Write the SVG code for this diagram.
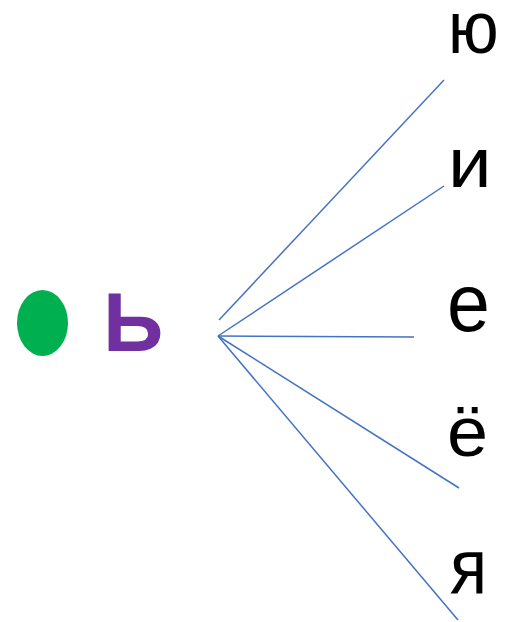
<svg xmlns="http://www.w3.org/2000/svg" width="506" height="622" viewBox="0 0 506 622">
<style>
.c{stroke:#4472C4;stroke-width:1.5;fill:none}
.l{font-family:"Liberation Sans",Arial,sans-serif;fill:#000}
</style>
<rect width="506" height="622" fill="#fff"/>
<g id="dot"><ellipse cx="42.5" cy="323" rx="25.5" ry="33" fill="#00B050"/></g>
<g id="soft-sign"><text x="103" y="351" font-family="Liberation Sans,Arial,sans-serif" font-weight="bold" font-size="84" fill="#7030A0">Ь</text></g>
<g id="connectors">
<line class="c" x1="219" y1="320" x2="444" y2="80"/>
<line class="c" x1="218" y1="336" x2="444" y2="186"/>
<line class="c" x1="218" y1="336" x2="414" y2="337"/>
<line class="c" x1="218" y1="336" x2="459" y2="488"/>
<line class="c" x1="218" y1="336" x2="458" y2="620"/>
</g>
<g id="yu"><text class="l" transform="translate(448,53) scale(0.9,1)" font-size="75">ю</text></g>
<g id="i"><text class="l" transform="translate(448,187) scale(1.1,1)" font-size="71">и</text></g>
<g id="e"><text class="l" transform="translate(447,331) scale(0.94,1)" font-size="82">е</text></g>
<g id="yo"><text class="l" transform="translate(447,456) scale(1.04,1)" font-size="71">ё</text></g>
<g id="ya"><text class="l" transform="translate(450,593) scale(0.89,1)" font-size="77">я</text></g>
</svg>
